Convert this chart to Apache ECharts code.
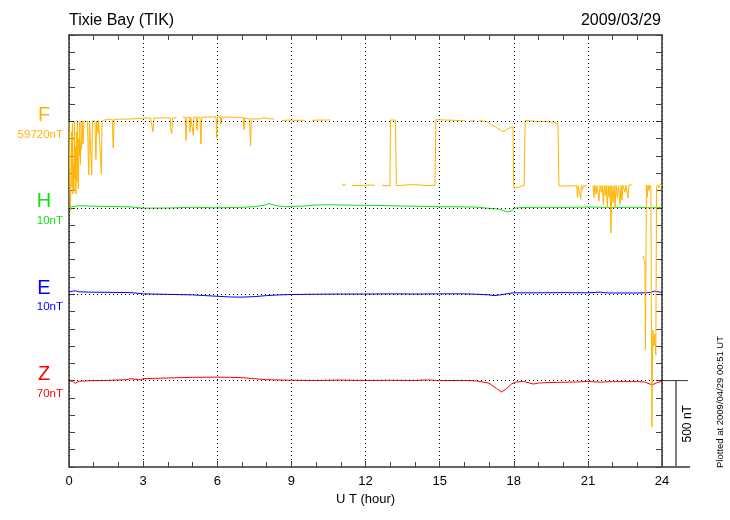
<!DOCTYPE html>
<html><head><meta charset="utf-8">
<script src="https://cdn.jsdelivr.net/npm/echarts@6/dist/echarts.min.js"></script>
<style>html,body{margin:0;padding:0;background:#fff}#c{width:730px;height:520px}</style>
</head><body><div id="c"></div><script>
// ---- data (hour, deviation in plot nT from each trace's baseline) ----
const stationTitle = 'Tixie Bay (TIK)';
const dateTitle = '2009/03/29';
const plottedText = 'Plotted at 2009/04/29 00:51 UT';
const xAxisName = 'U T (hour)';
const components = ['F', 'H', 'E', 'Z'];
const compScales = ['59720nT', '10nT', '10nT', '70nT'];
const compColors = ['#FFB400', '#12E012', '#0000FF', '#FF0000'];
const baselines = [2000, 1500, 1000, 500];
const scaleBarText = '500 nT';

const F_dev = [[0.00,-3],[0.02,-200],[0.04,-480],[0.06,-520],[0.08,-300],[0.10,-60],[0.12,-380],[0.14,-10],[0.16,-420],[0.18,-250],[0.20,-400],[0.22,0],[0.24,-330],[0.26,-150],[0.28,-420],[0.30,-60],[0.32,-350],[0.34,-2],[0.36,-300],[0.38,-390],[0.40,-100],[0.42,-200],[0.44,0],[0.46,-250],[0.48,-120],[0.50,-160],[0.53,2],[0.55,-100],[0.57,-130],[0.60,0],[0.65,3],[0.75,2],[0.78,-200],[0.80,-310],[0.83,2],[0.90,0],[0.92,-310],[0.95,3],[1.05,2],[1.09,-220],[1.12,2],[1.18,-70],[1.20,4],[1.28,2],[1.31,-305],[1.34,5],[1.45,8],[1.6,12],[1.75,12],[1.79,-155],[1.83,12],[2.1,13],[2.5,14],[2.9,17],[3.0,20],[3.3,19],[3.38,19],[3.40,-60],[3.43,19],[3.7,20],[4.0,21],[4.1,20],[4.13,-55],[4.16,-70],[4.19,20],[4.35,21],[4.37,'-'],[4.61,24],[4.70,25],[4.74,-110],[4.77,24],[4.88,25],[4.90,-60],[4.93,24],[5.0,25],[5.03,-80],[5.06,25],[5.15,26],[5.18,-50],[5.21,25],[5.30,24],[5.34,-131],[5.37,24],[5.6,25],[5.8,26],[5.95,26],[5.98,-96],[6.01,25],[6.13,25],[6.15,-15],[6.18,24],[6.5,25],[6.8,24],[7.05,22],[7.08,-50],[7.11,20],[7.3,16],[7.35,-141],[7.38,15],[7.7,14],[7.9,22],[8.1,15],[8.3,14],[8.34,'-'],[8.62,5],[8.9,8],[9.2,6],[9.55,7],[9.56,'-'],[9.83,6],[10.1,8],[10.3,7],[10.56,9],[10.57,'-'],[11.05,-368],[11.21,-368],[11.22,'-'],[11.45,-370],[11.9,-372],[12.1,-368],[12.38,-370],[12.39,'-'],[12.67,-370],[12.99,-372],[13.01,8],[13.21,8],[13.25,-372],[13.5,-370],[13.8,-366],[14.2,-368],[14.5,-372],[14.81,-370],[14.85,10],[15.2,8],[15.6,6],[16.03,4],[16.04,'-'],[16.23,2],[16.43,4],[16.44,'-'],[16.6,6],[16.75,2],[16.92,-2],[17.1,-20],[17.3,-35],[17.57,-60],[17.8,-40],[17.97,-31],[18.0,-385],[18.2,-380],[18.42,-370],[18.46,5],[18.7,3],[19.0,-2],[19.3,0],[19.6,-5],[19.79,-13],[19.83,-374],[20.2,-374],[20.55,-372],[20.58,-440],[20.61,-372],[20.68,-380],[20.71,-450],[20.74,-372],[20.78,-395],[20.82,-372],[20.96,-372],[20.97,'-'],[21.21,-372],[21.25,-440],[21.28,-368],[21.33,-420],[21.37,-372],[21.42,-370],[21.45,-460],[21.49,-370],[21.55,-410],[21.58,-372],[21.63,-480],[21.66,-372],[21.7,-430],[21.74,-370],[21.79,-500],[21.82,-372],[21.86,-440],[21.9,-372],[21.94,-646],[21.97,-372],[22.02,-470],[22.06,-372],[22.1,-500],[22.14,-370],[22.2,-440],[22.24,-370],[22.3,-480],[22.34,-372],[22.38,-455],[22.42,-370],[22.5,-410],[22.54,-368],[22.62,-445],[22.66,-368],[22.78,-368],[22.79,'-'],[23.23,-779],[23.27,-800],[23.31,-832],[23.33,-1323],[23.37,-368],[23.40,-440],[23.43,-368],[23.47,-400],[23.51,-368],[23.55,-390],[23.59,-1768],[23.63,-1207],[23.67,-1300],[23.71,-1230],[23.75,-1352],[23.78,-380],[23.82,-368],[23.87,-385],[23.92,-366],[24.0,-372]];

const H_dev = [[0,3],[0.2,8],[0.4,12],[0.8,10],[1.5,8],[2.5,5],[3.0,-2],[4.0,-1],[5.0,3],[6.0,0],[7.0,3],[7.5,6],[7.9,15],[8.1,24],[8.4,12],[8.8,6],[9.0,8],[9.5,10],[10.0,16],[10.5,18],[11.5,15],[12.0,14],[12.5,14],[13.5,10],[14.5,8],[15.0,6],[15.5,6],[16.5,4],[17.0,-3],[17.4,-8],[17.6,-17],[17.75,-24],[17.9,-19],[18.0,-3],[18.2,1],[19.0,3],[20.0,2],[21.0,4],[22.0,2],[23.0,3],[23.6,0],[24,2]];

const E_dev = [[0,14],[0.15,17],[0.25,20],[0.4,14],[0.8,12],[1.5,11],[2.5,9],[3.0,2],[4,-1],[5,-4],[5.5,-8],[6.0,-12],[6.5,-16],[7.0,-17],[7.5,-14],[8.0,-8],[8.5,-4],[9.0,-2],[10,0],[11,1],[12,1],[13,2],[14,1],[15,2],[16,2],[16.5,0],[17.0,-4],[17.2,-8],[17.4,-5],[17.8,4],[18,8],[19,8],[20,9],[21,8],[21.5,12],[21.7,8],[22,7],[23,7],[23.5,9],[23.7,18],[23.85,14],[24,10]];

const Z_dev = [[0,-1],[0.15,-5],[0.25,-16],[0.4,-4],[0.8,-1],[1.5,1],[2.3,5],[2.5,11],[2.9,4],[3.0,11],[3.5,13],[4.5,17],[5.0,19],[6.0,20],[6.5,19],[7.0,17],[7.5,11],[8.0,5],[9.0,2],[10,1],[11,3],[12,1],[13,2],[14,1],[14.5,4],[15,0],[16,1],[16.5,-2],[17.0,-15],[17.3,-45],[17.5,-66],[17.7,-48],[17.9,-20],[18.1,-8],[18.4,-5],[18.8,-20],[19.0,-14],[19.3,-12],[19.8,-10],[20.5,-8],[21,-5],[21.5,-9],[22,-6],[23,-6],[23.3,-8],[23.6,-25],[23.8,-12],[24,-4]];

const devs = [F_dev, H_dev, E_dev, Z_dev];

function shift(arr, base) {
  return arr.map(p => [p[0], p[1] === '-' ? '-' : p[1] + base]);
}

const chart = echarts.init(document.getElementById('c'), null, {renderer: 'canvas'});
const FONT = 'Liberation Sans, Arial, sans-serif';
const dotted = {color: '#000', width: 1, type: [1, 3]};

const series = [];
// draw Z, E, H first, F last
[3, 2, 1, 0].forEach(i => {
  series.push({
    type: 'line', name: components[i], data: shift(devs[i], baselines[i]),
    showSymbol: false, symbol: 'none', connectNulls: false,
    lineStyle: {color: compColors[i], width: 1}, silent: true,
    markLine: i === 3 ? {
      silent: true, symbol: 'none', label: {show: false},
      lineStyle: dotted,
      data: baselines.map(b => ({yAxis: b}))
    } : undefined
  });
});

const option = {
  animation: false,
  backgroundColor: '#fff',
  grid: {left: 69, right: 68, top: 35, bottom: 53},
  xAxis: [{
    type: 'value', min: 0, max: 24, interval: 3, position: 'bottom',
    name: xAxisName, nameLocation: 'middle', nameGap: 25,
    nameTextStyle: {fontFamily: FONT, fontSize: 13, color: '#000'},
    axisLine: {show: true, onZero: false, lineStyle: {color: '#666', width: 2}},
    axisTick: {show: true, inside: true, length: 6, lineStyle: {color: '#444'}},
    minorTick: {show: true, splitNumber: 3, length: 5, lineStyle: {color: '#444'}},
    axisLabel: {fontFamily: FONT, fontSize: 13, color: '#000', margin: 8},
    splitLine: {show: true, lineStyle: dotted}
  }, {
    type: 'value', min: 0, max: 24, interval: 3, position: 'top',
    axisLine: {show: true, onZero: false, lineStyle: {color: '#333', width: 1.5}},
    axisTick: {show: true, inside: true, length: 5, lineStyle: {color: '#444'}},
    minorTick: {show: true, splitNumber: 3, length: 5, lineStyle: {color: '#444'}},
    axisLabel: {show: false}, splitLine: {show: false}
  }],
  yAxis: [{
    type: 'value', min: 0, max: 2500, interval: 100, position: 'left',
    axisLine: {show: true, onZero: false, lineStyle: {color: '#333', width: 1.5}},
    axisTick: {show: true, inside: true, length: 6, lineStyle: {color: '#444'}},
    axisLabel: {show: false}, splitLine: {show: false}
  }, {
    type: 'value', min: 0, max: 2500, interval: 100, position: 'right',
    axisLine: {show: true, onZero: false, lineStyle: {color: '#333', width: 1.5}},
    axisTick: {show: true, inside: true, length: 6, lineStyle: {color: '#444'}},
    axisLabel: {show: false}, splitLine: {show: false}
  }],
  series: series
};
chart.setOption(option);

// decorations positioned through the chart's own scales
const toPx = (x, y) => chart.convertToPixel({xAxisIndex: 0, yAxisIndex: 0}, [x, y]);
const g = [];
const topLeft = toPx(0, 2500), topRight = toPx(24, 2500);
g.push({type: 'text', x: topLeft[0], y: topLeft[1] - 14,
  style: {text: stationTitle, fontFamily: FONT, fontSize: 16, fill: '#000', textAlign: 'left', textVerticalAlign: 'middle'}});
g.push({type: 'text', x: topRight[0] - 1, y: topRight[1] - 14,
  style: {text: dateTitle, fontFamily: FONT, fontSize: 16, fill: '#000', textAlign: 'right', textVerticalAlign: 'middle'}});
components.forEach((c, i) => {
  const p = toPx(0, baselines[i]);
  g.push({type: 'text', x: 44, y: p[1] - 6,
    style: {text: c, fontFamily: FONT, fontSize: 20, fill: compColors[i], textAlign: 'center', textVerticalAlign: 'middle'}});
  g.push({type: 'text', x: 63, y: p[1] + 13,
    style: {text: compScales[i], fontFamily: FONT, fontSize: 11.5, fill: compColors[i], textAlign: 'right', textVerticalAlign: 'middle'}});
});
// scale bar
const zb = toPx(24, baselines[3]), b0 = toPx(24, 0);
g.push({type: 'line', shape: {x1: zb[0], y1: zb[1], x2: zb[0] + 26, y2: zb[1]}, style: {stroke: '#333', lineWidth: 1}});
g.push({type: 'line', shape: {x1: zb[0] + 14, y1: zb[1], x2: zb[0] + 14, y2: b0[1]}, style: {stroke: '#555', lineWidth: 1.5}});
g.push({type: 'line', shape: {x1: b0[0], y1: b0[1], x2: b0[0] + 28, y2: b0[1]}, style: {stroke: '#666', lineWidth: 2}});
g.push({type: 'text', x: zb[0] + 26, y: (zb[1] + b0[1]) / 2, rotation: Math.PI / 2,
  style: {text: scaleBarText, fontFamily: FONT, fontSize: 12, fill: '#000', textAlign: 'center', textVerticalAlign: 'middle'}});
g.push({type: 'text', x: 720, y: 402, rotation: Math.PI / 2,
  style: {text: plottedText, fontFamily: FONT, fontSize: 9.5, fill: '#000', textAlign: 'center', textVerticalAlign: 'middle'}});
chart.setOption({graphic: g});
</script></body></html>
